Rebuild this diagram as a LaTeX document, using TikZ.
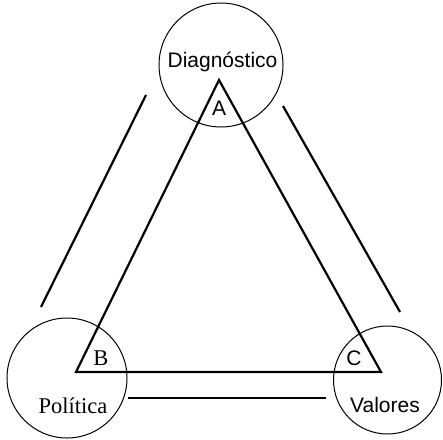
\documentclass[tikz,border=0pt]{standalone}
\usepackage{fontspec}
\setmainfont{Liberation Serif}
\setsansfont{Liberation Sans}
\begin{document}
\begin{tikzpicture}[x=1pt,y=-1pt,
  ring/.style={draw,circle,line width=1pt,inner sep=0pt},
  side/.style={line width=2.2pt},
  sanslbl/.style={font=\sffamily\fontsize{21}{25}\selectfont,anchor=base,inner sep=0pt},
  seriflbl/.style={font=\rmfamily\fontsize{22.5}{27}\selectfont,anchor=base,inner sep=0pt}]
\useasboundingbox (0,0) rectangle (443,439);
% circles
\node[ring,minimum size=124pt] (diag) at (221,65) {};
\node[ring,minimum size=120pt] (pol) at (67,378) {};
\node[ring,minimum size=108pt] (val) at (387.5,380) {};
% triangle vertices
\coordinate (A) at (219,80);
\coordinate (B) at (76,372);
\coordinate (C) at (381,372);
\draw[side,line join=miter] (A) -- (B) -- (C) -- cycle;
% outer lines
\coordinate (l1) at (146,95);
\coordinate (l2) at (41,307);
\coordinate (r1) at (283,106);
\coordinate (r2) at (400,312);
\coordinate (b1) at (128,398);
\coordinate (b2) at (326,398);
\draw[side] (l1) -- (l2);
\draw[side] (r1) -- (r2);
\draw[side] (b1) -- (b2);
% labels
\node[sanslbl] (tdiag) at (222.5,67) {Diagnóstico};
\node[sanslbl] (tA) at (219,115) {A};
\node[seriflbl] (tB) at (101,365) {B};
\node[seriflbl] (tpol) at (73,413) {Política};
\node[sanslbl] (tC) at (354,365) {C};
\node[sanslbl] (tval) at (385,412) {Valores};
\end{tikzpicture}
\end{document}
